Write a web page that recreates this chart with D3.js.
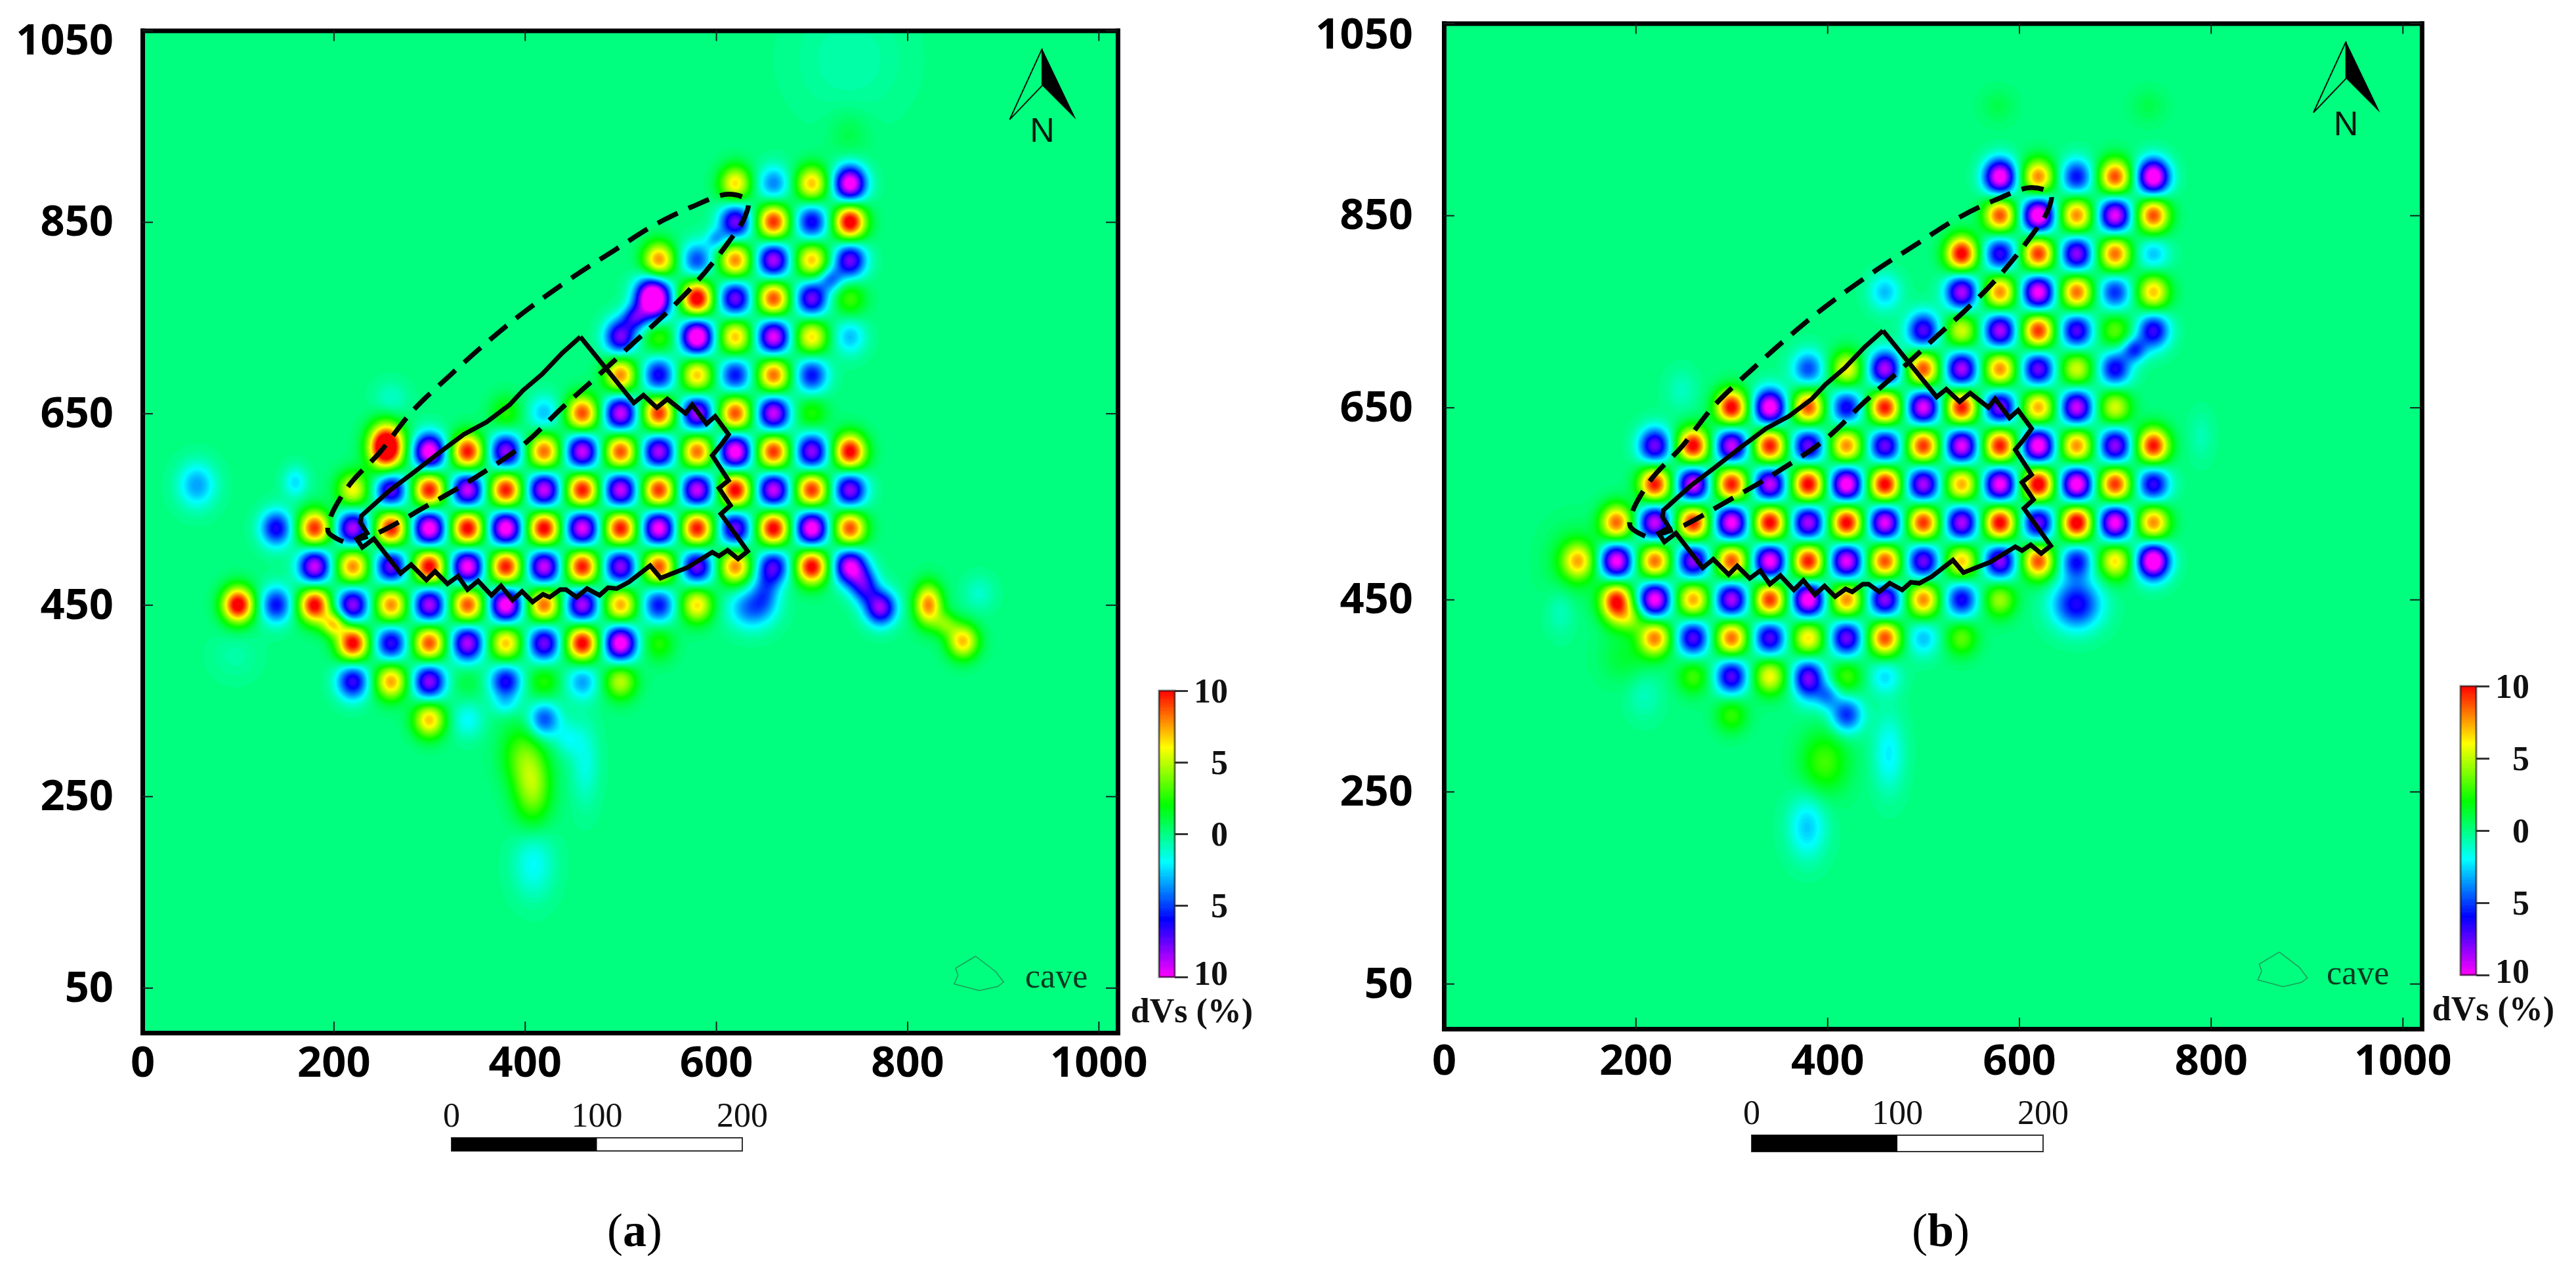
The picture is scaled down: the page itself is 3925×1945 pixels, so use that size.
<!DOCTYPE html>
<html>
<head>
<meta charset="utf-8">
<title>dVs checkerboard</title>
<script src="https://cdn.jsdelivr.net/npm/d3@7"></script>
<style>
  body { margin: 0; background: #fff; }
  svg { display: block; }
</style>
</head>
<body>
<div id="chart"></div>
<script>
// Axis ticks
var xTickValues = [0, 200, 400, 600, 800, 1000];
var yTickValues = [50, 250, 450, 650, 850, 1050];
var barTickValues = [10, 5, 0, -5, -10];
var scaleBarTicks = [0, 100, 200];

// Colour stops of the dVs bar
var colourStops = [-10, -6, -2, 2, 6, 10];
var colourNames = ["#ff00ff", "#0000ff", "#00ffff", "#00ff00", "#ffff00", "#ff0000"];

// Checkerboard nodes (x, y in metres)
var nodeX = [60, 100, 140, 180, 220, 260, 300, 340, 380, 420, 460, 500, 540, 580, 620, 660, 700, 740, 780, 820, 860];
var nodeY = [890, 850, 810, 770, 730, 690, 650, 610, 570, 530, 490, 450, 410, 370, 330];

// dVs at every node, panel a
var nodeValuesA = [
  [0, 0, 0, 0, 0, 0, 0, 0, 0, 0, 0, 0, 0, 0, 6.5, -4, 7, -11, 0, 0, 0],
  [0, 0, 0, 0, 0, 0, 0, 0, 0, 0, 0, 0, 0, 0, -8, 9.5, -6.5, 11, 0, 0, 0],
  [0, 0, 0, 0, 0, 0, 0, 0, 0, 0, 0, 0, 8, -5, 8, -9, 7, -8, 0, 0, 0],
  [0, 0, 0, 0, 0, 0, 0, 0, 0, 0, 0, 0, 0, 11, -8, 9, -8, 3, 0, 0, 0],
  [0, 0, 0, 0, 0, 0, 0, 0, 0, 0, 0, -8, 3, -12, 7, -10, 6.5, -3, 0, 0, 0],
  [0, 0, 0, 0, 0, 0, 0, 0, 0, 0, 0, 8, -6.5, 7, -6, 8.5, -6, 0, 0, 0, 0],
  [0, 0, 0, 0, 0, 0, 0, 0, 2.5, -3, 9, -9.5, 9.5, -9, 9, -9.5, 2.5, 0, 0, 0, 0],
  [0, 0, 0, 0, 0, 0, -11, 10, -8.5, 8.5, -9.5, 9, -9, 8.5, -11, 9.5, -8.5, 10.5, 0, 0, 0],
  [0, 0, 0, 0, 6, -8, 10, -9.5, 10, -9.5, 10, -9.5, 9.5, -9.5, 10.5, -9.5, 9.5, -8.5, 0, 0, 0],
  [0, 0, -6.5, 9.5, -9, 10, -11, 10.5, -11, 10.5, -10, 10, -10.5, 10, -8, 10.5, -11, 9, 0, 0, 0],
  [0, 0, 0, -9.5, 8, -8, 10.5, -10.5, 10, -9.5, 10, -8.5, 9, -8, 8, -7, 10.5, -10, 0, 0, 0],
  [0, 11, -6, 10.5, -8.5, 8, -9, 9, -11, 8.5, -9, 7.5, -6, 6.5, 0, 0, 0, 0, 0, 0, 0],
  [0, 0, 0, 0, 10.5, -7, 9, -9, 7, -8, 10.5, -11, 2.5, 0, 0, 0, 0, 0, 0, 0, 0],
  [0, 0, 0, 0, -7, 7.5, -8.5, 1, -6.5, 2.5, -3.5, 5, 0, 0, 0, 0, 0, 0, 0, 0, 0],
  [0, 0, 0, 0, 0, 0, 7, -2, 0, -5, 0, 0, 0, 0, 0, 0, 0, 0, 0, 0, 0]
];

// dVs at every node, panel b
var nodeValuesB = [
  [0, 0, 0, 0, 0, 0, 0, 0, 0, 0, 0, 0, 0, -11, 8, -6, 9, -11.5, 0, 0, 0],
  [0, 0, 0, 0, 0, 0, 0, 0, 0, 0, 0, 0, 0, 9, -11.5, 8, -10, 9, 0, 0, 0],
  [0, 0, 0, 0, 0, 0, 0, 0, 0, 0, 0, 0, 10.5, -7, 9.5, -8.5, 8.5, -3, 0, 0, 0],
  [0, 0, 0, 0, 0, 0, 0, 0, 0, 0, -3, 0, -9, 8, -10.5, 8.5, -5.5, 7, 0, 0, 0],
  [0, 0, 0, 0, 0, 0, 0, 0, 0, 0, 0, -7.5, 5.5, -9, 9.5, -7.5, 3.5, -7, 0, 0, 0],
  [0, 0, 0, 0, 0, 0, 0, 0, -5, 6, -9, 9, -9, 8, -8, 5.5, -6.5, 0, 0, 0, 0],
  [0, 0, 0, 0, 0, 0, 10.5, -11, 9, -6.5, 10, -10, 10, -8.5, 7.5, -9.5, 5.5, 0, 0, 0, 0],
  [0, 0, 0, 0, -8, 10.5, -9.5, 10, -8, 8, -8, 9.5, -10, 10, -11, 8, -8.5, 10, 0, 0, 0],
  [0, 0, 0, 0, 10, -10, 10, -9.5, 10.5, -11, 10.5, -9, 7.5, -10.5, 11, -11, 9.5, -7, 0, 0, 0],
  [0, 0, 0, 8.5, -9.5, 10, -10.5, 10.5, -9, 10.5, -10, 9.5, -9, 10.5, -8, 11, -10.5, 8, 0, 0, 0],
  [0, 0, 6, -10.5, 8.5, -8.5, 9, -10.5, 10, -10, 9, -8, 7, -8.5, 9, -6, 6.5, -12, 0, 0, 0],
  [0, 0, 0, 9, -10.5, 7.5, -9, 9.5, -11, 8, -8.5, 8, -6.5, 4.5, 0, 0, 0, 0, 0, 0, 0],
  [0, 0, 0, 0, 8, -7.5, 8.5, -7.5, 6.5, -8, 9, -3, 3.5, 0, 0, 0, 0, 0, 0, 0, 0],
  [0, 0, 0, 0, 0, 3, -7.5, 6, -6, 3, -2.5, 0, 0, 0, 0, 0, 0, 0, 0, 0, 0],
  [0, 0, 0, 0, 0, 0, 2.8, 0, 0, -5.5, 0, 0, 0, 0, 0, 0, 0, 0, 0, 0, 0]
];

// Off-grid smears: x, y, dVs, spread in x, spread in y
var smearsA = [
  [57, 575, -3.5, 11, 13], [160, 578, -2.5, 7, 9], [255, 615, 14, 10, 13], [534, 770, -14, 10, 12],
  [515, 750, -5, 7, 7], [260, 665, -1.2, 10, 10], [637, 447, -4.5, 13, 12], [652, 465, -3, 8, 12],
  [755, 470, -6, 8, 10], [772, 447, -8.5, 9, 10], [822, 450, 8, 8, 12], [858, 412, 7, 9, 10],
  [840, 430, 3, 7, 7], [200, 430, 6, 7, 7], [408, 260, 4.5, 11, 22], [395, 295, 2.5, 12, 18],
  [463, 285, -1.6, 8, 24], [409, 180, -2, 12, 20], [445, 310, -1.6, 8, 10], [380, 345, -1.5, 8, 6],
  [739, 1020, -0.7, 32, 34], [739, 942, 0.9, 12, 14], [875, 462, -1.2, 9, 10], [97, 397, -0.6, 14, 14],
  [720, 790, -4, 7, 7], [600, 832, -3, 6, 6]
];
var smearsB = [
  [660, 445, -6.5, 14, 14], [400, 350, -3.5, 7, 8], [380, 360, -2.5, 8, 12], [397, 281, 3, 14, 18],
  [464, 290, -2.2, 9, 22], [379, 213, -2.8, 11, 18], [720, 710, -5, 7, 7], [180, 435, 2.5, 9, 10],
  [195, 430, 3, 8, 8], [135, 490, 1.5, 16, 20], [190, 390, 1.2, 15, 15], [209, 351, -1, 10, 14],
  [122, 438, -1, 8, 14], [248, 668, -1, 9, 12], [578, 964, 0.8, 10, 10], [735, 964, 0.8, 10, 10],
  [790, 620, -0.8, 7, 14]
];

// Outlines in map units
var workingFace = [
  [458, 730], [514, 661], [524, 669], [538, 656], [549, 665], [568, 650], [575, 659], [590, 639], [599, 647],
  [613, 628], [605, 617], [596, 606], [613, 580], [603, 572], [615, 554], [605, 545], [633, 506], [623, 498],
  [612, 507], [603, 501], [596, 505], [570, 489], [542, 478], [531, 491], [509, 474], [496, 467], [487, 468],
  [478, 460], [465, 467], [454, 458], [443, 466], [437, 466], [426, 458], [419, 461], [408, 453], [397, 464],
  [387, 455], [375, 470], [365, 460], [351, 475], [340, 466], [330, 480], [319, 472], [306, 485], [297, 476],
  [281, 492], [270, 483], [242, 519], [230, 510], [224, 519], [235, 525], [228, 536], [229, 543], [258, 569],
  [282, 587], [309, 608], [336, 628], [360, 641], [384, 659], [398, 674], [418, 691], [439, 713], [458, 730]
];
var dashedZone = [
  [210, 516], [194.5, 526], [196.5, 541], [217, 576], [248, 609], [282, 652], [323, 691], [360, 724], [398, 755],
  [452.5, 794], [493, 820], [534, 846], [575, 866], [613, 879], [633, 872], [630, 855], [613, 829], [582, 790],
  [548, 755], [514, 724], [476, 689], [439, 656], [398, 617], [340, 578], [295, 552], [248, 526], [227, 519]
];
var northLeft = [[941, 1031], [907, 957], [941, 992.5]];
var northRight = [[941, 1031], [941, 992.5], [976.5, 957]];
var caveIcon = [[871.4, 82.9], [892.3, 67], [900.7, 56], [894.7, 51.4], [875.3, 47], [849, 54], [853, 63], [850.5, 70.5], [871.4, 82.9]];

var spreadX = 11.5;
var spreadY = 13;
var smearWiden = 1.25;
var cell = 3;

var colour = d3.scaleLinear().domain(colourStops).range(colourNames).clamp(true);

var svg = d3.select("#chart").append("svg")
  .attr("width", 3925)
  .attr("height", 1945);

//Gather nodes and smears into one list for the field
function peaksFrom(nodeValues, smears) {
  var peaks = [];
  nodeValues.forEach(function(row, r) {
    row.forEach(function(v, c) {
      if (v !== 0) peaks.push([nodeX[c], nodeY[r], v, spreadX, spreadY]);
    });
  });
  smears.forEach(function(s) {
    peaks.push([s[0], s[1], s[2], s[3] * smearWiden, s[4] * smearWiden]);
  });
  return peaks;
}

function drawPanel(p) {
  var xScale = d3.scaleLinear().domain([0, 1020]).range([p.left, p.right]);
  var yScale = d3.scaleLinear().domain([3, 1050]).range([p.bottom, p.top]);

  // field on a pixel grid that runs a little past the frame
  var nx = Math.ceil((p.right - p.left) / cell) + 4;
  var ny = Math.ceil((p.bottom - p.top) / cell) + 4;
  var field = new Float64Array(nx * ny);
  var ox = p.left - 2 * cell;
  var oy = p.top - 2 * cell;

  peaksFrom(p.nodes, p.smears).forEach(function(k) {
    var sx = Math.abs(xScale(k[3]) - xScale(0));
    var sy = Math.abs(yScale(k[4]) - yScale(0));
    var cx = xScale(k[0]);
    var cy = yScale(k[1]);
    var i0 = Math.max(0, Math.floor((cx - 5 * sx - ox) / cell));
    var i1 = Math.min(nx - 1, Math.ceil((cx + 5 * sx - ox) / cell));
    var j0 = Math.max(0, Math.floor((cy - 5 * sy - oy) / cell));
    var j1 = Math.min(ny - 1, Math.ceil((cy + 5 * sy - oy) / cell));
    for (var j = j0; j <= j1; j++) {
      for (var i = i0; i <= i1; i++) {
        var dx = (ox + (i + 0.5) * cell - cx) / sx;
        var dy = (oy + (j + 0.5) * cell - cy) / sy;
        field[j * nx + i] += k[2] * Math.exp(-0.5 * (dx * dx + dy * dy));
      }
    }
  });

  // bands are centred on their value so zero stays one flat colour
  var thresholds = d3.range(-13.1, 13, 0.2);
  var contours = d3.contours().size([nx, ny]).thresholds(thresholds)(field);

  svg.append("clipPath").attr("id", "frame" + p.name)
    .append("rect")
    .attr("x", p.left).attr("y", p.top)
    .attr("width", p.right - p.left).attr("height", p.bottom - p.top);

  var map = svg.append("g").attr("clip-path", "url(#frame" + p.name + ")");
  map.append("rect")
    .attr("x", p.left).attr("y", p.top)
    .attr("width", p.right - p.left).attr("height", p.bottom - p.top)
    .attr("fill", colour(-10));
  map.append("g")
    .attr("transform", "translate(" + ox + "," + oy + ") scale(" + cell + ")")
    .selectAll("path")
    .data(contours)
    .enter().append("path")
    .attr("d", d3.geoPath())
    .attr("fill", function(d) { return colour(d.value + 0.1); });

  var line = d3.line()
    .x(function(d) { return xScale(d[0]); })
    .y(function(d) { return yScale(d[1]); });

  map.append("path")
    .attr("d", line.curve(d3.curveCatmullRom)(dashedZone))
    .attr("fill", "none")
    .attr("stroke", "#050505")
    .attr("stroke-width", 7.5)
    .attr("stroke-dasharray", "34 18");

  line.curve(d3.curveLinear);
  map.append("path")
    .attr("d", line(workingFace))
    .attr("fill", "none")
    .attr("stroke", "#050505")
    .attr("stroke-width", 7)
    .attr("stroke-linejoin", "miter");

  // north arrow
  map.append("path").attr("d", line(northLeft) + "Z")
    .attr("fill", "none").attr("stroke", "#04150b").attr("stroke-width", 2);
  map.append("path").attr("d", line(northRight) + "Z").attr("fill", "#000");
  map.append("text")
    .attr("x", xScale(941)).attr("y", yScale(933.6))
    .attr("text-anchor", "middle")
    .style("font", "52px 'Liberation Sans'")
    .attr("fill", "#06190e")
    .text("N");

  // cave key
  map.append("path").attr("d", line(caveIcon))
    .attr("fill", "none").attr("stroke", "#1f9b55").attr("stroke-width", 1.5);
  map.append("text")
    .attr("x", p.left + 1345).attr("y", p.caveY)
    .style("font", "52px 'Liberation Serif'")
    .attr("fill", "#0a3a20")
    .text("cave");

  // frame and ticks
  function styleAxis(g) {
    g.select(".domain").attr("stroke", "#000").attr("stroke-width", 7).attr("stroke-linecap", "square");
    g.selectAll(".tick line").attr("stroke", "#10201a").attr("stroke-width", 2);
    g.selectAll("text").style("font", "bold 65px 'Open Sans'").attr("fill", "#000");
  }

  svg.append("g")
    .attr("transform", "translate(0," + p.bottom + ")")
    .call(d3.axisBottom(xScale).tickValues(xTickValues).tickFormat(d3.format("d")).tickSizeInner(-17).tickSizeOuter(0).tickPadding(p.xPad))
    .call(styleAxis);
  svg.append("g")
    .attr("transform", "translate(0," + p.top + ")")
    .call(d3.axisTop(xScale).tickValues(xTickValues).tickSizeInner(-16).tickSizeOuter(0).tickFormat(""))
    .call(styleAxis);
  svg.append("g")
    .attr("transform", "translate(" + p.left + ",0)")
    .call(d3.axisLeft(yScale).tickValues(yTickValues).tickFormat(d3.format("d")).tickSizeInner(-16).tickSizeOuter(0).tickPadding(p.yPad))
    .call(styleAxis)
    .selectAll(".tick text")
    .attr("dy", function(d) { return d === 1050 ? p.topLabelDy : "0.32em"; });
  svg.append("g")
    .attr("transform", "translate(" + p.right + ",0)")
    .call(d3.axisRight(yScale).tickValues(yTickValues).tickSizeInner(-18).tickSizeOuter(0).tickFormat(""))
    .call(styleAxis);

  // colour bar
  var barScale = d3.scaleLinear().domain([10, -10]).range([p.barTop, p.barBottom]);
  svg.append("g").selectAll("rect")
    .data(d3.range(-10, 10, 0.1))
    .enter().append("rect")
    .attr("x", p.barLeft)
    .attr("y", function(d) { return barScale(d + 0.1); })
    .attr("width", 24)
    .attr("height", Math.abs(barScale(0.1) - barScale(0)) + 0.6)
    .attr("fill", function(d) { return colour(d); });
  svg.append("rect")
    .attr("x", p.barLeft).attr("y", p.barTop)
    .attr("width", 24).attr("height", p.barBottom - p.barTop)
    .attr("fill", "none").attr("stroke", "#000").attr("stroke-opacity", 0.55).attr("stroke-width", 3);

  var barAxis = svg.append("g")
    .attr("transform", "translate(" + (p.barLeft + 24) + ",0)")
    .call(d3.axisRight(barScale).tickValues(barTickValues).tickSizeOuter(0).tickSize(20).tickPadding(0)
      .tickFormat(function(d) { return Math.abs(d); }));
  barAxis.select(".domain").remove();
  barAxis.selectAll(".tick line").attr("stroke", "#333").attr("stroke-width", 3);
  barAxis.selectAll("text")
    .attr("x", 81)
    .attr("text-anchor", "end")
    .attr("dy", function(d) { return d === -10 ? "0.23em" : "0.33em"; })
    .style("font", "bold 52px 'Liberation Serif'")
    .attr("fill", "#111");

  svg.append("text")
    .attr("x", p.barLeft + 50).attr("y", p.barBottom + 69)
    .attr("text-anchor", "middle")
    .style("font", "bold 52px 'Liberation Serif'")
    .attr("fill", "#111")
    .text("dVs (%)");

  // scale bar
  var scaleBar = d3.scaleLinear().domain([0, 200]).range([p.scaleLeft, p.scaleRight]);
  svg.append("rect")
    .attr("x", scaleBar(0)).attr("y", p.scaleY)
    .attr("width", scaleBar(200) - scaleBar(0)).attr("height", p.scaleH)
    .attr("fill", "#fff").attr("stroke", "#333").attr("stroke-width", 2);
  svg.append("rect")
    .attr("x", scaleBar(0)).attr("y", p.scaleY)
    .attr("width", scaleBar(100) - scaleBar(0)).attr("height", p.scaleH)
    .attr("fill", "#000");
  svg.append("g").selectAll("text")
    .data(scaleBarTicks)
    .enter().append("text")
    .attr("x", function(d) { return scaleBar(d); })
    .attr("y", p.scaleY - 17)
    .attr("text-anchor", "middle")
    .style("font", "52px 'Liberation Serif'")
    .attr("fill", "#111")
    .text(function(d) { return d; });

  // panel letter
  var caption = svg.append("text")
    .attr("x", p.captionX).attr("y", 1898)
    .attr("text-anchor", "middle")
    .style("font", "72px 'Liberation Serif'")
    .attr("fill", "#000");
  caption.append("tspan").text("(");
  caption.append("tspan").style("font-weight", "bold").text(p.name);
  caption.append("tspan").text(")");
}

drawPanel({
  name: "a", nodes: nodeValuesA, smears: smearsA,
  left: 217, right: 1703, top: 46.5, bottom: 1573,
  xPad: 21, yPad: 44, topLabelDy: "0.55em", caveY: 1504,
  barLeft: 1766, barTop: 1052, barBottom: 1488,
  scaleLeft: 688, scaleRight: 1131, scaleY: 1733, scaleH: 20,
  captionX: 967
});
drawPanel({
  name: "b", nodes: nodeValuesB, smears: smearsB,
  left: 2200, right: 3690, top: 35.5, bottom: 1567,
  xPad: 24, yPad: 47, topLabelDy: "0.58em", caveY: 1499,
  barLeft: 3749, barTop: 1045, barBottom: 1485,
  scaleLeft: 2669, scaleRight: 3113, scaleY: 1729, scaleH: 25,
  captionX: 2957
});
</script>
</body>
</html>
